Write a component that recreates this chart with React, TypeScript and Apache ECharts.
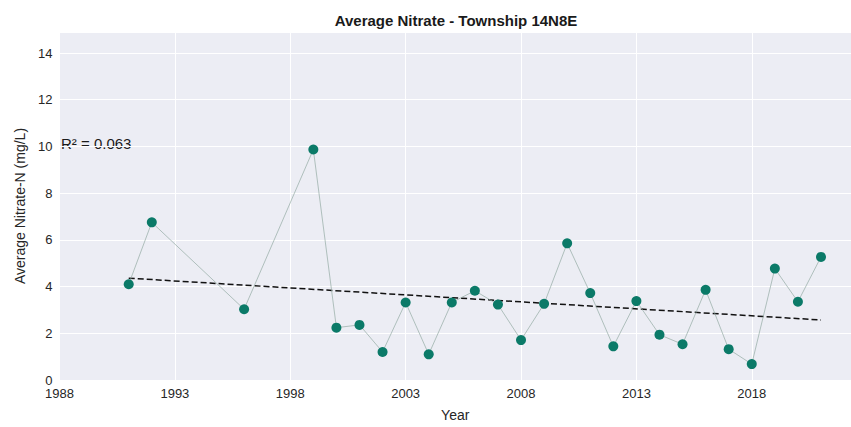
import React, { useEffect, useRef } from "react";
import * as echarts from "echarts";

const years = [1991, 1992, 1996, 1999, 2000, 2001, 2002, 2003, 2004, 2005, 2006, 2007, 2008, 2009, 2010, 2011, 2012, 2013, 2014, 2015, 2016, 2017, 2018, 2019, 2020, 2021];
const nitrate = [4.1, 6.75, 3.03, 9.87, 2.24, 2.36, 1.2, 3.32, 1.1, 3.32, 3.82, 3.23, 1.71, 3.26, 5.85, 3.72, 1.44, 3.38, 1.94, 1.53, 3.86, 1.32, 0.68, 4.77, 3.35, 5.27];
const trendYears = [1991, 2021];
const trendValues = [4.36, 2.57];
const yTicks = [0, 2, 4, 6, 8, 10, 12, 14];
const xTicks = [1988, 1993, 1998, 2003, 2008, 2013, 2018];
const title = "Average Nitrate - Township 14N8E";
const r2Text = "R\u00b2 = 0.063";

const FONT = "'Liberation Sans', Arial, sans-serif";

export default function App() {
  const ref = useRef<HTMLDivElement>(null);
  useEffect(() => {
    if (!ref.current) return;
    const chart = echarts.init(ref.current, undefined, { renderer: "svg" });
    chart.setOption({
      animation: false,
      backgroundColor: "#ffffff",
      textStyle: { fontFamily: FONT },
      title: {
        text: title,
        left: 451,
        top: 8,
        textAlign: "center",
        textStyle: { fontFamily: FONT, fontSize: 15, fontWeight: "bold", color: "#1a1a1a" },
      },
      grid: { left: 59.5, right: 0, top: 32, bottom: 47, show: true, backgroundColor: "#ecedf4", borderWidth: 0 },
      xAxis: {
        type: "value",
        min: 1988,
        max: 2022.3,
        interval: 5,
        name: "Year",
        nameLocation: "middle",
        nameGap: 28,
        nameTextStyle: { fontFamily: FONT, fontSize: 14, color: "#262626" },
        axisLine: { show: false },
        axisTick: { show: false },
        axisLabel: {
          fontFamily: FONT,
          fontSize: 13,
          color: "#262626",
          margin: 7,
          showMaxLabel: false,
          formatter: (v: number) => (xTicks.includes(v) ? String(v) : ""),
        },
        splitLine: { show: true, lineStyle: { color: "#ffffff", width: 1 } },
      },
      yAxis: {
        type: "value",
        min: 0,
        max: 14.9,
        interval: 2,
        name: "Average Nitrate-N (mg/L)",
        nameLocation: "middle",
        nameGap: 32,
        nameRotate: 90,
        nameTextStyle: { fontFamily: FONT, fontSize: 14, color: "#262626" },
        axisLine: { show: false },
        axisTick: { show: false },
        axisLabel: {
          fontFamily: FONT,
          fontSize: 13,
          color: "#262626",
          margin: 7,
          showMaxLabel: false,
          formatter: (v: number) => (yTicks.includes(v) ? String(v) : ""),
        },
        splitLine: { show: true, lineStyle: { color: "#ffffff", width: 1 } },
      },
      graphic: [
        {
          type: "text",
          left: 61,
          top: 136,
          style: { text: r2Text, fontFamily: FONT, fontSize: 15, fill: "#1a1a1a" },
        },
      ],
      series: [
        {
          type: "line",
          data: years.map((y, i) => [y, nitrate[i]]),
          symbol: "circle",
          symbolSize: 10,
          itemStyle: { color: "#0b7a68" },
          lineStyle: { color: "#93aaa4", width: 0.7 },
          z: 3,
        },
        {
          type: "line",
          data: trendYears.map((y, i) => [y, trendValues[i]]),
          symbol: "none",
          lineStyle: { color: "#111111", width: 1.5, type: [6, 3] },
          z: 2,
        },
      ],
    });
    return () => chart.dispose();
  }, []);
  return <div ref={ref} style={{ position: "fixed", left: 0, top: 0, width: 851, height: 427 }} />;
}
